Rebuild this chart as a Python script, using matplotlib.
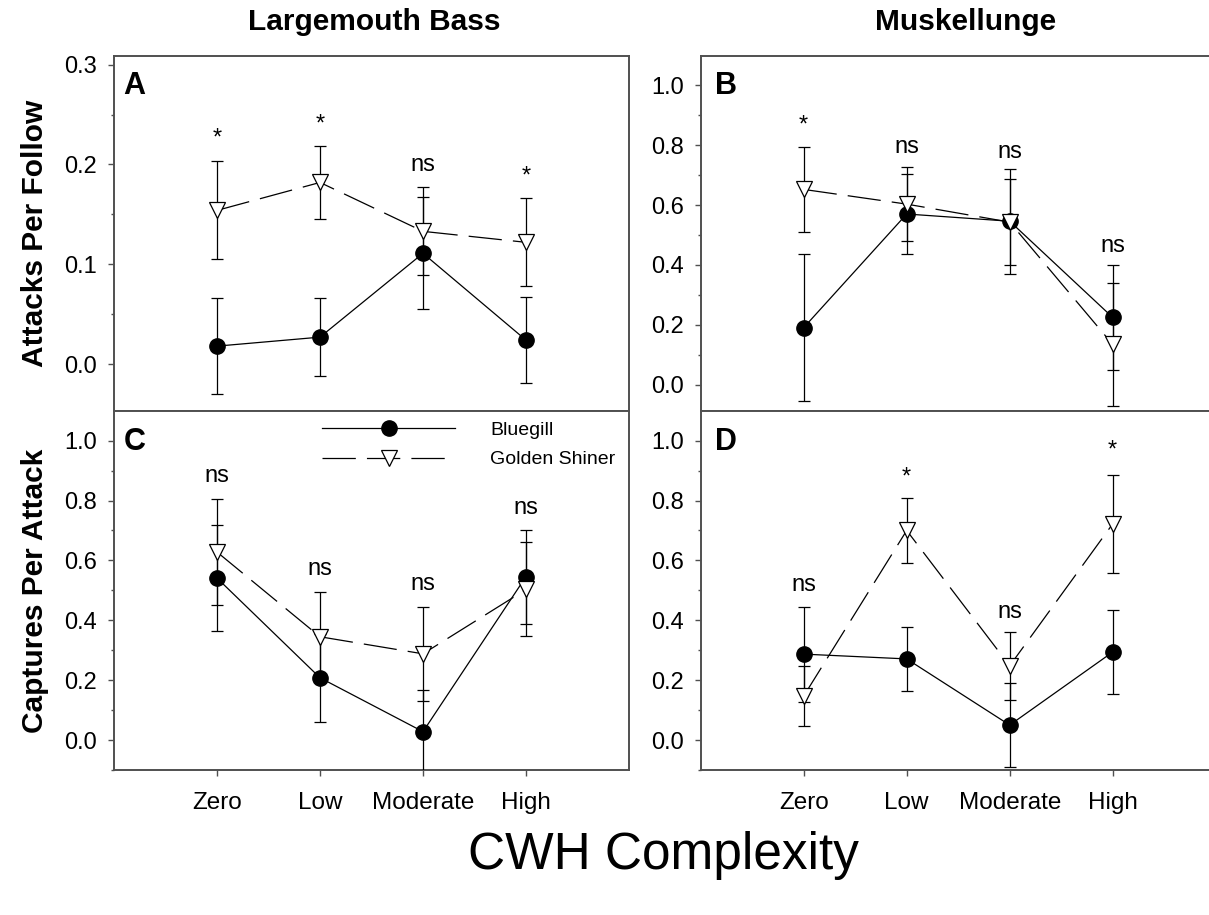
import matplotlib
matplotlib.use("Agg")
import matplotlib.pyplot as plt
from matplotlib.ticker import MultipleLocator, FormatStrFormatter

plt.rcParams['font.family'] = ['Liberation Sans', 'DejaVu Sans']
plt.rcParams['lines.scale_dashes'] = False

categories = ['Zero', 'Low', 'Moderate', 'High']

# Panel A: Largemouth Bass, attacks per follow
A_blue = [0.018, 0.027, 0.111, 0.024]
A_blue_err = [0.048, 0.039, 0.056, 0.043]
A_gold = [0.154, 0.182, 0.133, 0.122]
A_gold_err = [0.049, 0.037, 0.044, 0.044]
A_lab = ['*', '*', 'ns', '*']
A_lab_y = [0.2336, 0.2473, 0.200, 0.1956]

# Panel B: Muskellunge, attacks per follow
B_blue = [0.191, 0.570, 0.546, 0.225]
B_blue_err = [0.244, 0.132, 0.175, 0.175]
B_gold = [0.652, 0.603, 0.543, 0.135]
B_gold_err = [0.143, 0.123, 0.143, 0.205]
B_lab = ['*', 'ns', 'ns', 'ns']
B_lab_y = [0.889, 0.794, 0.778, 0.463]

# Panel C: Largemouth Bass, captures per attack
C_blue = [0.541, 0.208, 0.028, 0.546]
C_blue_err = [0.176, 0.147, 0.140, 0.157]
C_gold = [0.628, 0.345, 0.288, 0.503]
C_gold_err = [0.176, 0.148, 0.158, 0.157]
C_lab = ['ns', 'ns', 'ns', 'ns']
C_lab_y = [0.882, 0.571, 0.521, 0.776]

# Panel D: Muskellunge, captures per attack
D_blue = [0.287, 0.271, 0.050, 0.294]
D_blue_err = [0.159, 0.106, 0.139, 0.139]
D_gold = [0.147, 0.700, 0.248, 0.722]
D_gold_err = [0.099, 0.107, 0.114, 0.164]
D_lab = ['ns', '*', 'ns', '*']
D_lab_y = [0.518, 0.902, 0.428, 0.992]

W, H = 1209, 915
fig = plt.figure(figsize=(W / 100, H / 100), dpi=100)

def fx(px):
    return px / W

def fy(py):
    return 1 - py / H

left_x, right_x, width = 114, 700.7, 515
top_y0, top_y1 = 55.7, 411
bot_y0, bot_y1 = 411, 770

axA = fig.add_axes([fx(left_x), fy(top_y1), width / W, (top_y1 - top_y0) / H])
axB = fig.add_axes([fx(right_x), fy(top_y1), width / W, (top_y1 - top_y0) / H])
axC = fig.add_axes([fx(left_x), fy(bot_y1), width / W, (bot_y1 - bot_y0) / H])
axD = fig.add_axes([fx(right_x), fy(bot_y1), width / W, (bot_y1 - bot_y0) / H])

spine_col = '#505050'
xs = [1, 2, 3, 4]

panels = [
    (axA, 'A', A_blue, A_blue_err, A_gold, A_gold_err, A_lab, A_lab_y, (-0.047, 0.309), 0.1, 0.05, True),
    (axB, 'B', B_blue, B_blue_err, B_gold, B_gold_err, B_lab, B_lab_y, (-0.087, 1.098), 0.2, 0.1, True),
    (axC, 'C', C_blue, C_blue_err, C_gold, C_gold_err, C_lab, C_lab_y, (-0.100, 1.099), 0.2, 0.1, False),
    (axD, 'D', D_blue, D_blue_err, D_gold, D_gold_err, D_lab, D_lab_y, (-0.100, 1.099), 0.2, 0.1, False),
]

handles = None
for ax, letter, yb, eb, yg, eg, labs, laby, ylim, major, minor, is_top in panels:
    cb = ax.errorbar(xs, yb, yerr=eb, fmt='o-', color='black', lw=0.9,
                     elinewidth=0.9, capsize=4.3, capthick=0.9,
                     markersize=11, mfc='black', mec='black', zorder=3)
    cg = ax.errorbar(xs, yg, yerr=eg, fmt='v', color='black', lw=0.9,
                     elinewidth=0.9, capsize=4.3, capthick=0.9,
                     markersize=12, mfc='white', mec='black', mew=0.9, zorder=4,
                     ls=(0, (24, 8)))
    if handles is None:
        handles = [cb[0], cg[0]]
    ax.set_xlim(0, 5)
    ax.set_ylim(*ylim)
    ax.yaxis.set_major_locator(MultipleLocator(major))
    ax.yaxis.set_minor_locator(MultipleLocator(minor))
    ax.yaxis.set_major_formatter(FormatStrFormatter('%.1f'))
    ax.set_xticks(xs)
    ax.set_xticklabels(categories)
    for s in ax.spines.values():
        s.set_color(spine_col)
        s.set_linewidth(1.4)
    ax.tick_params(axis='both', which='major', direction='out', length=4,
                   width=1, color=spine_col, labelsize=17, pad=8)
    ax.tick_params(axis='both', which='minor', direction='out', length=2.5,
                   width=1, color=spine_col)
    ax.tick_params(axis='x', which='minor', bottom=False)
    if is_top:
        ax.tick_params(axis='x', which='both', bottom=False, labelbottom=False)
    else:
        ax.tick_params(axis='x', which='major', pad=12, labelsize=17.5)
    for x, lab, ly in zip(xs, labs, laby):
        off = 4.4 if lab == 'ns' else 9.8
        ax.annotate(lab, xy=(x, ly), xytext=(0, -off), textcoords='offset points',
                    ha='center', va='baseline', fontsize=17)
    ax.text(0.018 if letter in 'AC' else 0.028, 0.892, letter,
            transform=ax.transAxes, ha='left', va='baseline',
            fontsize=22, fontweight='bold')

axC.legend(handles, ['Bluegill', 'Golden Shiner'], loc='upper left',
           bbox_to_anchor=(0.404, 0.972), frameon=False, fontsize=14,
           handlelength=6.85, handletextpad=1.8, labelspacing=0.62,
           borderpad=0, borderaxespad=0, numpoints=1)

fig.text(fx(374), fy(22), 'Largemouth Bass', ha='center', va='center',
         fontsize=21.5, fontweight='bold')
fig.text(fx(966), fy(22), 'Muskellunge', ha='center', va='center',
         fontsize=21.5, fontweight='bold')
fig.text(fx(35), fy((top_y0 + top_y1) / 2), 'Attacks Per Follow', rotation=90,
         ha='center', va='center', fontsize=21.5, fontweight='bold')
fig.text(fx(35), fy((bot_y0 + bot_y1) / 2), 'Captures Per Attack', rotation=90,
         ha='center', va='center', fontsize=21.5, fontweight='bold')
fig.text(fx(664), fy(856), 'CWH Complexity', ha='center', va='center',
         fontsize=37)

fig.savefig('out.png', dpi=100)
